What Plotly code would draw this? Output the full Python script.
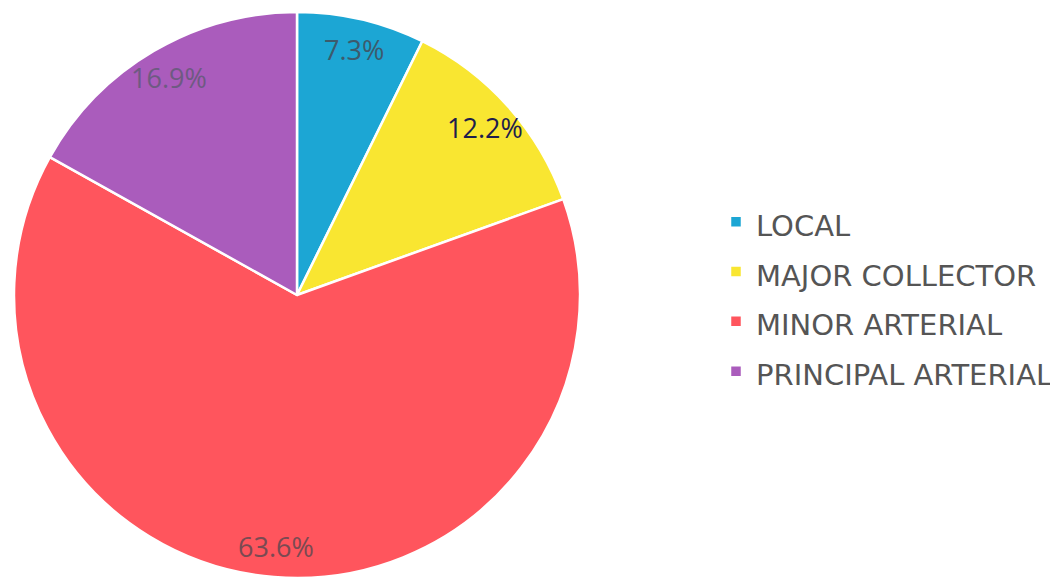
import math
import plotly.graph_objects as go

categories = ["LOCAL", "MAJOR COLLECTOR", "MINOR ARTERIAL", "PRINCIPAL ARTERIAL"]
values = [7.3, 12.2, 63.6, 16.9]
slice_colors = ["#1CA6D4", "#F9E631", "#FF555D", "#AA5CBC"]
label_colors = ["#3d5a6c", "#1e1e4c", "#7a4a52", "#6e5a82"]

W, H = 1058, 580
CX, CY = 289, 293          # pie centre in figure px (CY measured from bottom)
R = 283                    # pie radius in px
LABEL_R = 0.89

fig = go.Figure()
fig.add_trace(go.Pie(
    labels=[f"<span style='font-size:29px'>{c}</span>" for c in categories],
    values=values,
    sort=False,
    direction="clockwise",
    rotation=0,
    marker=dict(colors=slice_colors, line=dict(color="white", width=2.5)),
    textinfo="none",
    hoverinfo="label+percent",
    domain=dict(x=[(CX - R) / W, (CX + R) / W], y=[(CY - R) / H, (CY + R) / H]),
))

total = sum(values)
cum = 0.0
for v, col in zip(values, label_colors):
    mid = (cum + v / 2) / total * 2 * math.pi
    cum += v
    fig.add_annotation(
        x=(CX + LABEL_R * R * math.sin(mid)) / W,
        y=(CY + LABEL_R * R * math.cos(mid)) / H,
        xref="paper", yref="paper", showarrow=False,
        xanchor="center", yanchor="middle",
        text=f"{v:.1f}%",
        font=dict(family="Open Sans", size=27, color=col),
    )

fig.update_layout(
    width=W, height=H,
    margin=dict(l=0, r=0, t=0, b=0),
    paper_bgcolor="white", plot_bgcolor="white",
    showlegend=True,
    legend=dict(
        x=708 / W, xanchor="left", y=0.502, yanchor="middle",
        font=dict(family="DejaVu Sans", size=36, color="#555555"),
        bgcolor="rgba(0,0,0,0)",
    ),
)

fig.write_html("out.html")
